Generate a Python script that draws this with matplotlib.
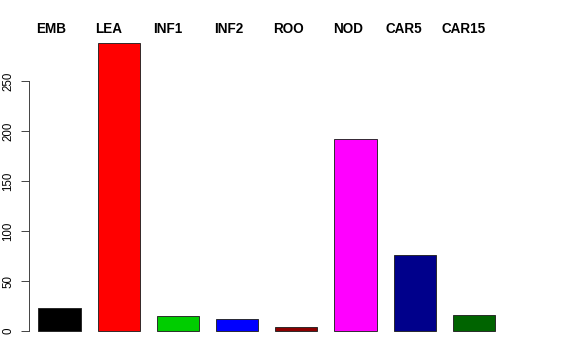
import matplotlib
matplotlib.use('Agg')
import matplotlib.pyplot as plt

plt.rcParams['font.family'] = ['Liberation Sans', 'DejaVu Sans']

# data
labels = ['EMB', 'LEA', 'INF1', 'INF2', 'ROO', 'NOD', 'CAR5', 'CAR15']
counts = [23, 288, 15, 12, 4, 192, 76, 16]
colors = ['#000000', '#FF0000', '#00CD00', '#0000FF', '#8B0000', '#FF00FF', '#00008B', '#006400']
yticks = [0, 50, 100, 150, 200, 250]

# header label centres (pixels from the left)
label_px = [51, 109, 168, 229, 288, 348, 404, 464]


def main():
    W, H = 576, 360
    fig = plt.figure(figsize=(W / 72, H / 72), dpi=72)
    fig.patch.set_facecolor('white')

    left, right, top, bottom = 29, 546, 31, 343
    ax = fig.add_axes([left / W, (H - bottom) / H, (right - left) / W, (bottom - top) / H])

    pitch = 59.2
    x0 = 59.5
    xs = list(range(len(labels)))
    ax.bar(xs, counts, width=0.71, color=colors, edgecolor='#222222', linewidth=0.9)

    ax.set_xlim((left - x0) / pitch, (right - x0) / pitch)
    ax.set_ylim(-12, 300)

    for s in ['top', 'right', 'bottom']:
        ax.spines[s].set_visible(False)
    ax.spines['left'].set_bounds(0, 250)
    ax.spines['left'].set_linewidth(0.9)
    ax.spines['left'].set_color('#333333')
    ax.set_xticks([])
    ax.set_yticks(yticks)
    ax.tick_params(axis='y', length=8, width=0.9, color='#333333', pad=7, labelsize=11.5)
    plt.setp(ax.get_yticklabels(), rotation=90, va='center')

    for px, lab in zip(label_px, labels):
        fig.text(px / W, 1 - 29 / H, lab, ha='center', va='center',
                 fontsize=13.5, fontweight='bold')

    fig.savefig('out.png', dpi=72)


if __name__ == '__main__':
    main()
